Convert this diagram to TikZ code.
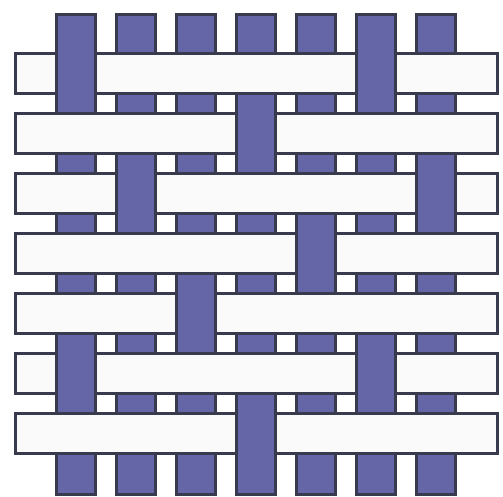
\documentclass[tikz,border=0pt]{standalone}
\definecolor{edgec}{HTML}{383A4E}
\definecolor{warpc}{HTML}{6466A8}
\definecolor{weftc}{HTML}{FAFAFA}
\begin{document}
\begin{tikzpicture}[x=1pt,y=-1pt,line width=3pt,
  strand/.style={draw=edgec,line join=miter},
  warpstrand/.style={strand,fill=warpc},
  weftstrand/.style={strand,fill=weftc}]
\useasboundingbox (0,0) rectangle (503,496);
% vertical (warp) strips
\foreach \i in {0,...,6}
  \draw[warpstrand] ({56+60*\i},14) rectangle ({95+60*\i},494);
% horizontal (weft) strips
\foreach \j in {0,...,6}
  \draw[weftstrand] (15,{53+60*\j}) rectangle (497,{93+60*\j});
% warp-over crossings
\foreach \j in {0,...,6} {
  \foreach \i in {0,...,6} {
    \pgfmathtruncatemacro\a{mod(\i,5)}
    \pgfmathtruncatemacro\b{mod(3*\j,5)}
    \ifnum\a=\b
      \fill[warpc] ({56+60*\i},{50+60*\j}) rectangle ({95+60*\i},{96+60*\j});
      \draw[edgec] ({56+60*\i},{49+60*\j}) -- ({56+60*\i},{97+60*\j})
                   ({95+60*\i},{49+60*\j}) -- ({95+60*\i},{97+60*\j});
    \fi
  }
}
\end{tikzpicture}
\end{document}
